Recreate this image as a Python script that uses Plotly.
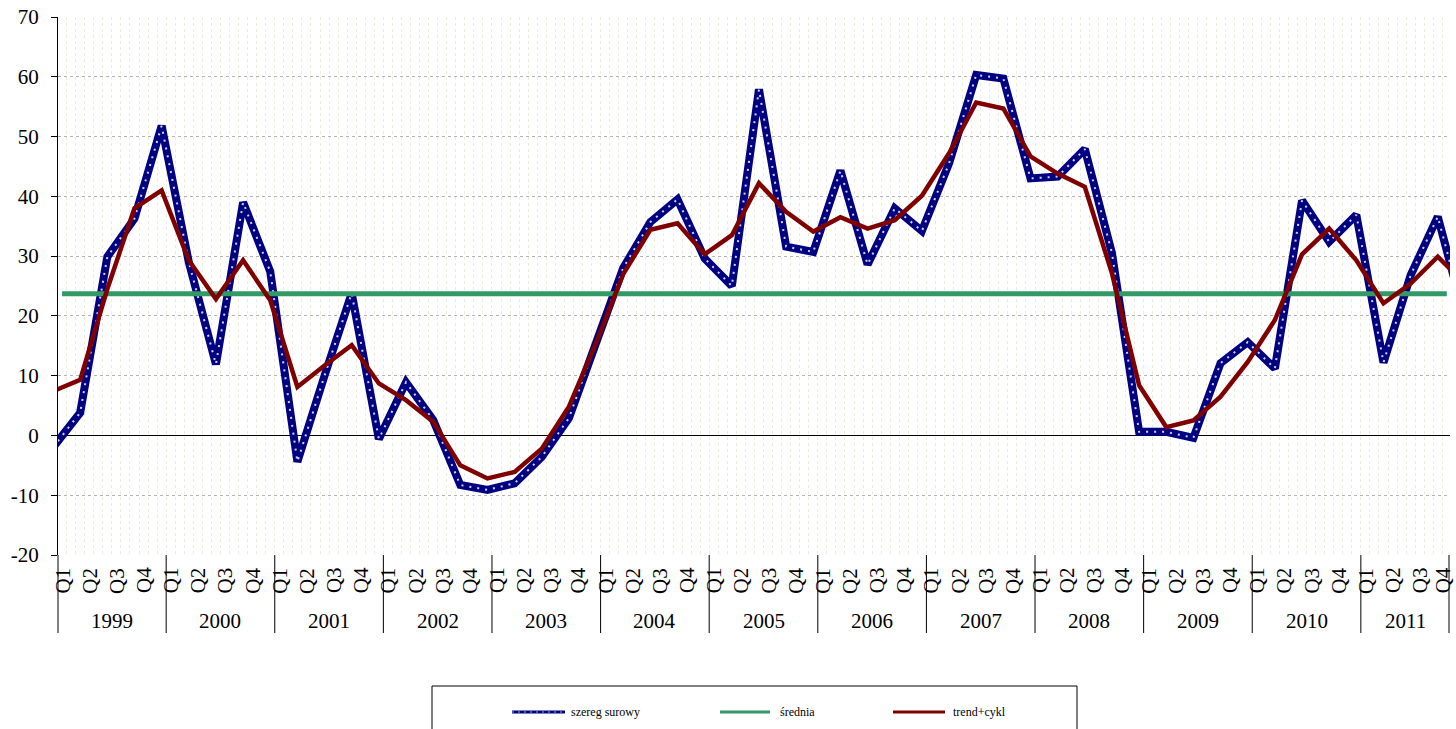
import numpy as np
import pandas as pd
import plotly.graph_objects as go

# ---------------- data ----------------
# quarterly observations, plotted at the last month of each quarter
PERIODS = pd.period_range("1998Q4", "2011Q4", freq="Q")
SZEREG_SUROWY = [
    -2.0,                      # 1998 Q4
    3.8, 29.9, 36.3, 51.8,     # 1999
    29.0, 11.9, 39.0, 27.4,    # 2000
    -4.4, 10.0, 23.8, -0.6,    # 2001
    8.9, 2.6, -8.3, -9.1,      # 2002
    -8.0, -3.6, 2.9, 15.5,     # 2003
    28.0, 35.7, 39.5, 29.6,    # 2004
    25.0, 57.9, 31.6, 30.7,    # 2005
    44.3, 28.6, 38.0, 34.2,    # 2006
    45.5, 60.3, 59.7, 43.0,    # 2007
    43.3, 47.9, 30.5, 0.6,     # 2008
    0.6, -0.4, 12.1, 15.6,     # 2009
    11.2, 39.3, 32.4, 36.9,    # 2010
    12.2, 26.8, 36.6, 19.5,    # 2011
]
TREND_CYKL = [
    7.4,
    9.3, 24.5, 38.0, 41.0,
    29.3, 22.8, 29.3, 22.6,
    8.1, 11.7, 15.1, 8.7,
    5.9, 2.3, -5.0, -7.2,
    -6.1, -2.2, 4.8, 15.5,
    27.0, 34.4, 35.5, 30.3,
    33.5, 42.2, 37.4, 34.1,
    36.5, 34.6, 36.0, 40.1,
    47.2, 55.7, 54.7, 46.7,
    43.8, 41.6, 27.1, 8.4,
    1.4, 2.5, 6.5, 12.3,
    19.3, 30.3, 34.6, 29.3,
    22.1, 25.4, 29.9, 25.4,
]
SREDNIA = 23.7
YEARS = list(range(1999, 2012))
QUARTER_LABELS = ["Q1", "Q2", "Q3", "Q4"]
Y_TICKS = [-20, -10, 0, 10, 20, 30, 40, 50, 60, 70]
Y_TICK_TEXT = ["-20", "-10", "0", "10", "20", "30", "40", "50", "60", "70"]

SERIES_NAMES = ["szereg surowy", "średnia", "trend+cykl"]

# ---------------- layout constants ----------------
W, H = 1456, 729
PL, PR, PT, PB = 58, 1450, 17, 555          # plot area in window pixels
ML, MR, MT, MB = PL, W - PR, PT, H - PB
PW, PH = PR - PL, PB - PT
X_RANGE = [-0.45, 153.35]          # months since Jan 1999
FONT = "Liberation Serif"
NAVY, GREEN, MAROON = "#000080", "#339966", "#800000"


def px_x(px):
    return (px - PL) / PW


def px_y(py):
    return (PB - py) / PH


# x positions (months since Jan 1999)
obs_x = [(p.year - 1999) * 12 + p.quarter * 3 - 1 for p in PERIODS]
label_x = [(y - 1999) * 12 + q * 3 for y in YEARS for q in range(4)]
label_text = [QUARTER_LABELS[q] for y in YEARS for q in range(4)]

fig = go.Figure()

# raw series: thick navy line + light dotted core
fig.add_trace(go.Scatter(x=obs_x, y=SZEREG_SUROWY, mode="lines", name=SERIES_NAMES[0],
                         line=dict(color=NAVY, width=8), showlegend=False))
fig.add_trace(go.Scatter(x=obs_x, y=SZEREG_SUROWY, mode="lines", name=SERIES_NAMES[0],
                         line=dict(color="#cfd4f6", width=2, dash="2px,6px"),
                         showlegend=False, hoverinfo="skip"))
fig.add_trace(go.Scatter(x=label_x, y=[SREDNIA] * len(label_x), mode="lines",
                         name=SERIES_NAMES[1], line=dict(color=GREEN, width=5),
                         showlegend=False))
fig.add_trace(go.Scatter(x=obs_x, y=TREND_CYKL, mode="lines", name=SERIES_NAMES[2],
                         line=dict(color=MAROON, width=4.5), showlegend=False))

shapes = []
annotations = []

# category axis decorations
sep_bottom = px_y(633)
for k in range(1, len(YEARS)):
    shapes.append(dict(type="line", xref="x", yref="paper", x0=12 * k - 0.5, x1=12 * k - 0.5,
                       y0=0, y1=sep_bottom, line=dict(color="black", width=1)))
shapes.append(dict(type="line", xref="paper", yref="paper", x0=0, x1=0, y0=0, y1=sep_bottom,
                   line=dict(color="black", width=1)))
shapes.append(dict(type="line", xref="paper", yref="paper", x0=px_x(1449), x1=px_x(1449),
                   y0=0, y1=sep_bottom, line=dict(color="black", width=1)))

n_lab = len(label_x)
for i, (xv, t) in enumerate(zip(label_x, label_text)):
    # keep the very last label's text box inside the page edge
    shift = -4 if i == n_lab - 1 else 0
    annotations.append(dict(x=xv, y=px_y(580.5), xref="x", yref="paper", text=t,
                            showarrow=False, textangle=-90, xanchor="center", yanchor="middle",
                            xshift=shift, borderpad=0,
                            font=dict(family=FONT, size=21, color="black")))
for k, yr in enumerate(YEARS):
    lo = max(12 * k - 0.5, X_RANGE[0])
    hi = min(12 * k + 11.5, X_RANGE[1])
    annotations.append(dict(x=(lo + hi) / 2, y=px_y(620.5), xref="x", yref="paper", text=str(yr),
                            showarrow=False, xanchor="center", yanchor="middle",
                            font=dict(family=FONT, size=21, color="black")))

# legend box (drawn manually to match the original layout)
shapes.append(dict(type="rect", xref="paper", yref="paper", x0=px_x(432), x1=px_x(1077),
                   y0=px_y(686), y1=px_y(745), line=dict(color="black", width=1),
                   fillcolor="white", layer="below"))
ly = px_y(712)
legend_items = [
    (512, 565, 569, NAVY, 3, SERIES_NAMES[0]),
    (720, 770, 778, GREEN, 3, SERIES_NAMES[1]),
    (893, 945, 951, MAROON, 3, SERIES_NAMES[2]),
]
for x0, x1, tx, col, lw, name in legend_items:
    shapes.append(dict(type="line", xref="paper", yref="paper", x0=px_x(x0), x1=px_x(x1),
                       y0=ly, y1=ly, line=dict(color=col, width=lw)))
    annotations.append(dict(x=px_x(tx), y=ly, xref="paper", yref="paper", text=name,
                            showarrow=False, xanchor="left", yanchor="middle",
                            font=dict(family=FONT, size=12, color="black")))
shapes.append(dict(type="line", xref="paper", yref="paper", x0=px_x(512), x1=px_x(565),
                   y0=ly, y1=ly, line=dict(color="#9aa0e0", width=1, dash="2px,4px")))

fig.update_layout(
    width=W, height=H,
    margin=dict(l=ML, r=MR, t=MT, b=MB, pad=0, autoexpand=False),
    paper_bgcolor="white", plot_bgcolor="white",
    showlegend=False,
    shapes=shapes, annotations=annotations,
    xaxis=dict(range=X_RANGE, showgrid=True, tickmode="linear", tick0=0.5, dtick=1,
               gridcolor="#ececdc", griddash="dot", gridwidth=1,
               showticklabels=False, ticks="", zeroline=False, showline=False, fixedrange=True),
    yaxis=dict(range=[-20, 70], tickmode="array", tickvals=Y_TICKS, ticktext=Y_TICK_TEXT,
               showgrid=True, gridcolor="#b4b4b4", griddash="dot", gridwidth=1,
               zeroline=True, zerolinecolor="black", zerolinewidth=1,
               showline=True, linecolor="black", linewidth=1,
               ticks="outside", ticklen=6, tickcolor="black", ticklabelstandoff=8,
               tickfont=dict(family=FONT, size=21, color="black"), fixedrange=True),
)

# remove the default 8px page margin so the figure fills the window exactly
fig.write_html("out.html", config={"displayModeBar": False},
               post_script="document.body.style.margin='0';")
